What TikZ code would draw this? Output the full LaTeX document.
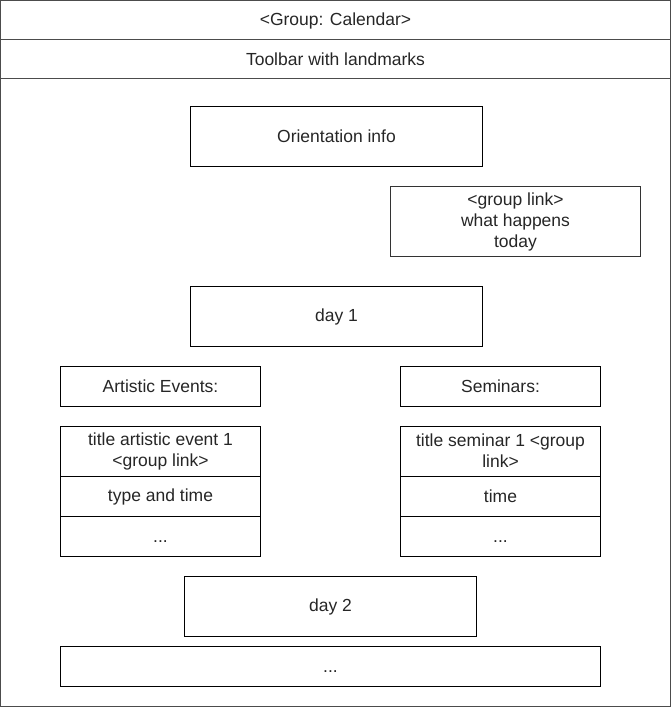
\documentclass[tikz,border=0pt]{standalone}
\usepackage{fontspec}
\setmainfont{Liberation Sans}
\usetikzlibrary{positioning}

\newcommand\etcdots{...}
\newcommand\boxstrut{\rule[-1.5pt]{0pt}{15.5pt}}

\tikzset{
  box/.style={draw, line width=1pt, rectangle, inner sep=0pt, align=center,
    font=\fontsize{17.5}{21}\selectfont, text=black!85,
    execute at begin node=\boxstrut, execute at end node=\boxstrut},
  frame/.style={box, draw=black!70},
}

\begin{document}
\begin{tikzpicture}[x=1pt, y=-1pt]
  \useasboundingbox (0,0) rectangle (671,707);

  % page and header
  \node[frame, minimum width=670pt, minimum height=706pt] (page) at (335.5,353.5) {};
  \node[frame, minimum width=670pt, minimum height=39pt] (title) at (335.5,20) {<Group: Calendar>};
  \node[frame, minimum width=670pt, minimum height=39pt] (toolbar) at (335.5,59) {Toolbar with landmarks};

  % orientation
  \node[box, minimum width=292pt, minimum height=60pt] (orient) at (336.5,136.5) {Orientation info};
  \node[box, draw=black!80, minimum width=250pt, minimum height=70pt] (today) at (515.5,221.5)
    {<group link>\\what happens\\today};

  % day 1
  \node[box, minimum width=292pt, minimum height=60pt] (day1) at (336.5,316.5) {day 1};

  % event columns
  \foreach \x/\name/\head/\first/\second in {
      160.5/art/Artistic Events:/title artistic event 1\\<group link>/type and time,
      500.5/sem/Seminars:/title seminar 1 <group\\link>/time} {
    \node[box, minimum width=200pt, minimum height=40pt] (\name-head) at (\x,386.5) {\head};
    \node[box, minimum width=200pt, minimum height=50pt] (\name-a) at (\x,451.5) {\first};
    \node[box, minimum width=200pt, minimum height=40pt] (\name-b) at (\x,496.5) {\second};
    \node[box, minimum width=200pt, minimum height=40pt] (\name-c) at (\x,536.5) {\etcdots};
  }

  % day 2
  \node[box, minimum width=292pt, minimum height=60pt] (day2) at (330.5,606.5) {day 2};
  \node[box, minimum width=540pt, minimum height=40pt] (more) at (330.5,666.5) {\etcdots};
\end{tikzpicture}
\end{document}
